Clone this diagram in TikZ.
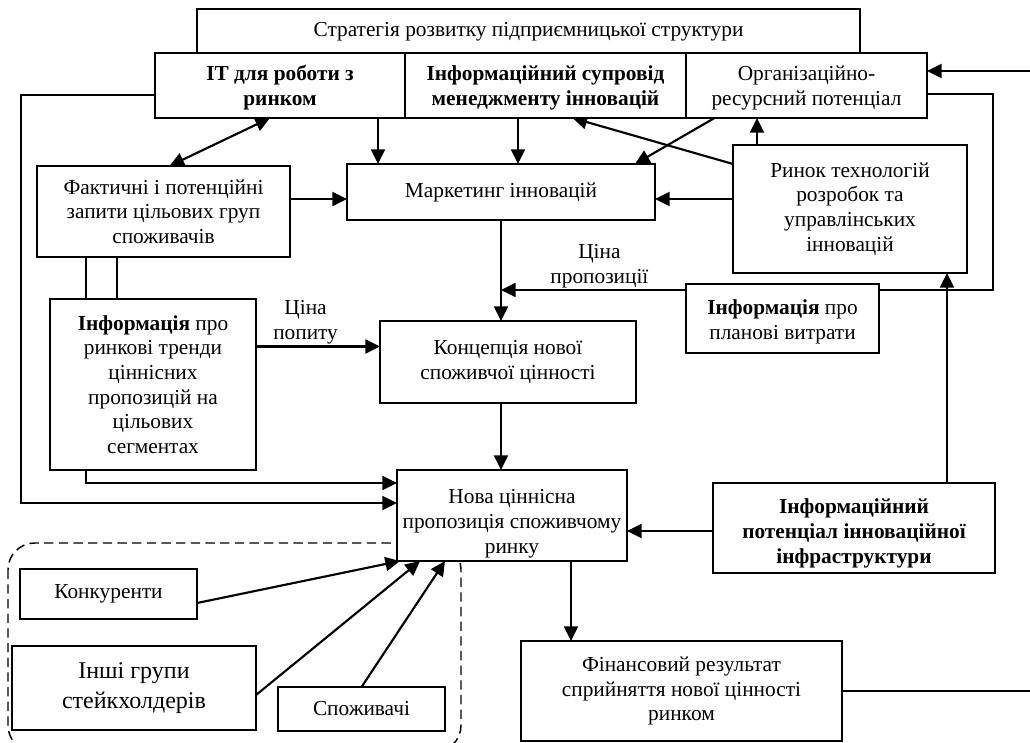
\documentclass[tikz,border=0pt]{standalone}
\usepackage{fontspec}
\setmainfont{Liberation Serif}
\usetikzlibrary{arrows.meta,positioning,calc,backgrounds}

\begin{document}
\begin{tikzpicture}[
    x=0.75pt, y=-0.75pt,
    node distance=0pt,
    block/.style={draw, fill=white, line width=1.4pt, outer sep=0pt, inner sep=2pt, align=center, font=\fontsize{16}{18.5}\selectfont},
    bold/.style={font=\fontsize{16}{18.5}\selectfont\bfseries},
    sz/.style 2 args={minimum width=#1*0.75pt, minimum height=#2*0.75pt},
    arrow/.style={-{Triangle[length=11pt,width=10.5pt]}, line width=1.6pt},
    twoway/.style={{Triangle[length=11pt,width=10.5pt]}-{Triangle[length=11pt,width=10.5pt]}, line width=1.6pt},
    link/.style={line width=1.3pt},
    lbl/.style={font=\fontsize{16}{18.5}\selectfont, align=center, inner sep=1pt},
    group/.style={draw, dash pattern=on 7pt off 4pt, line width=1.1pt, rounded corners=20pt},
]
\useasboundingbox (0,0) rectangle (1030,742);

% top row
\node[block, sz={663}{45}] (strat) at (528.5,31.5) {Стратегія розвитку підприємницької структури};
\node[block, bold, sz={250}{65}] (it) at (280,85.5) {\rule{0pt}{15pt}ІТ для роботи з\\ринком};
\node[block, bold, sz={281}{65}, right=of it] (sup) {\rule{0pt}{15pt}Інформаційний супровід\\менеджменту інновацій};
\node[block, sz={241}{65}, right=of sup] (org) {\rule{0pt}{15pt}Організаційно-\\ресурсний потенціал};

% middle
\node[block, sz={253}{91}] (fact) at (163.5,211.5) {Фактичні і потенційні\\запити цільових груп\\споживачів};
\node[block, sz={308}{56}] (mkt) at (501,192) {Маркетинг інновацій};
\node[block, sz={234}{128}] (tech) at (850,209) {Ринок технологій\\розробок та\\управлінських\\інновацій};
\node[block, sz={206}{171}] (trend) at (153,384.5) {\textbf{Інформація} про\\ринкові тренди\\ціннісних\\пропозицій на\\цільових\\сегментах};
\node[block, sz={256}{82}] (conc) at (508,362) {Концепція нової\\споживчої цінності};
\node[block, sz={193}{69}] (plan) at (782.5,318.5) {\rule{0pt}{16pt}\textbf{Інформація} про\\планові витрати};
\node[block, sz={230}{91}] (nova) at (512,515.5) {\rule{0pt}{23pt}Нова ціннісна\\пропозиція споживчому\\ринку};
\node[block, bold, sz={282}{90}] (ipot) at (854,528) {\rule{0pt}{19pt}Інформаційний\\потенціал інноваційної\\інфраструктури};

% bottom
\node[block, sz={177}{50}] (comp) at (108.5,594) {Конкуренти};
\node[block, sz={244}{84}, font=\fontsize{18}{22}\selectfont] (oth) at (134,688) {Інші групи\\стейкхолдерів};
\node[block, sz={167}{44}] (cons) at (361.5,709) {Споживачі};
\node[block, sz={321}{100}] (fin) at (681.5,691) {Фінансовий результат\\сприйняття нової цінності\\ринком};

\begin{scope}[on background layer]
% stakeholders frame
\draw[group] (8,543) rectangle (461,752);

% links between the boxes
\draw[twoway] ($(fact.north)+(6,0)$) -- ($(it.south)+(-10,0)$);
\coordinate (itdown) at ($(mkt.north)+(-123,0)$);
\draw[arrow] (itdown |- it.south) -- (itdown);
\coordinate (supdown) at ($(mkt.north)+(17,0)$);
\draw[arrow] (supdown |- sup.south) -- (supdown);
\draw[arrow] ($(org.south)+(-92,0)$) -- ($(mkt.north east)+(-20,0)$);
\draw[arrow] ($(tech.north west)+(0,19)$) -- ($(sup.south)+(27,0)$);
\coordinate (techup) at ($(org.south)+(-49.5,0)$);
\draw[arrow] (techup |- tech.north) -- (techup);
\coordinate (techout) at ($(tech.west)+(0,-10)$);
\draw[arrow] (techout) -- (techout -| mkt.east);
\coordinate (factout) at ($(fact.east)+(0,-12.5)$);
\draw[arrow] (factout) -- (factout -| mkt.west);
\draw[arrow] (mkt.south) -- (mkt.south |- conc.north);

% price of the offer
\coordinate (offer) at ($(mkt.south |- plan.north)+(0,6)$);
\draw[arrow] ($(org.east)+(0,8.5)$) -- ++(66,0) |- node[lbl, above, pos=0.9] {Ціна\\пропозиції} (offer);

\coordinate (infraup) at ($(ipot.north)+(93,0)$);
\draw[arrow] (infraup) -- (infraup |- tech.south);
\coordinate (infraout) at ($(ipot.west)+(0,3)$);
\draw[arrow] (infraout) -- (infraout -| nova.east);
\draw[arrow] (mkt.south |- conc.south) -- (mkt.south |- nova.north);
\foreach \dx in {49,80}
  \draw[link] ($(fact.south west)+(\dx,0)$) -- ($(trend.north west)+(\dx-13,0)$);

% price of demand
\coordinate (demand) at ($(trend.east)+(0,-38)$);
\draw[arrow] (demand) -- node[lbl, above, pos=0.4] {Ціна\\попиту} (demand -| conc.west);
\draw[arrow] ($(trend.south west)+(36,0)$) |- ($(nova.west)+(0,-32.5)$);
\draw[arrow] ($(it.west)+(0,9.5)$) -- ++(-134,0) |- ($(nova.west)+(0,-12.5)$);

\coordinate (novaout) at ($(nova.south)+(59,0)$);
\draw[arrow] (novaout) -- (novaout |- fin.north);
\draw[arrow] ($(comp.east)+(0,9)$) -- ($(nova.south west)+(3,0)$);
\draw[arrow] ($(oth.east)+(0,7)$) -- ($(nova.south west)+(23,0)$);
\draw[arrow] (cons.north) -- ($(nova.south west)+(48,0)$);

% loop at the right margin
\coordinate (loopin) at (1030,71);
\draw[arrow] (loopin) -- (loopin -| org.east);
\draw[link] (fin.east) -- (fin.east -| loopin);
\end{scope}
\end{tikzpicture}
\end{document}
